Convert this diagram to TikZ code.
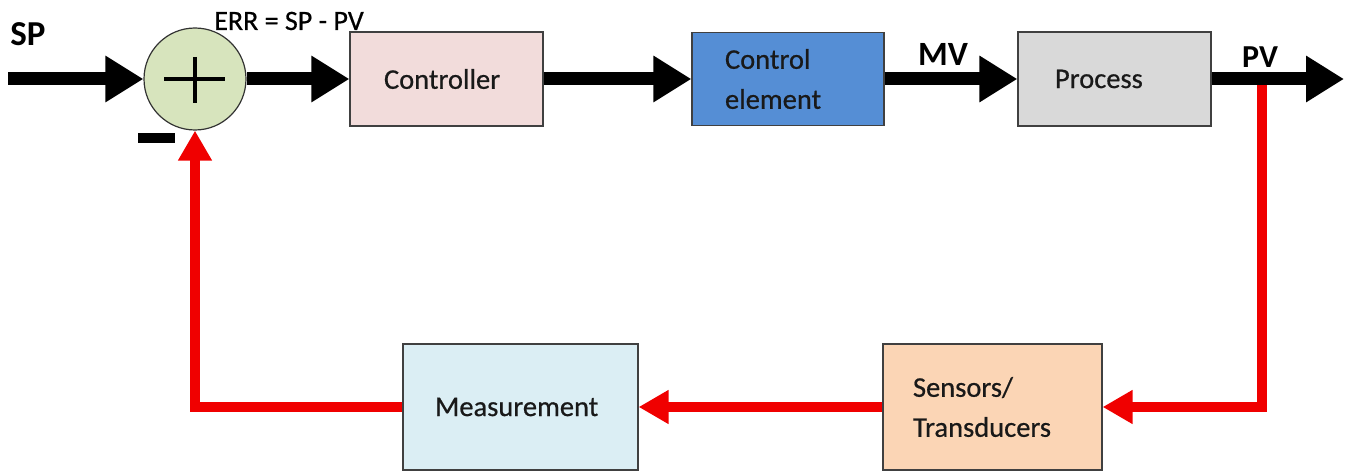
\documentclass[tikz,border=0pt]{standalone}
\usepackage{fontspec}
\setmainfont{Carlito}
\newfontfamily\boxfont{Carlito}[FakeBold=0.6]
\usetikzlibrary{arrows.meta}
\definecolor{sumgreen}{HTML}{D7E4BD}
\definecolor{ctrlpink}{HTML}{F2DCDB}
\definecolor{ceblue}{HTML}{558ED5}
\definecolor{procgray}{HTML}{D9D9D9}
\definecolor{senspeach}{HTML}{FBD5B5}
\definecolor{measblue}{HTML}{DBEEF4}
\definecolor{fbred}{HTML}{F00000}
\begin{document}
\begin{tikzpicture}[x=1pt,y=-1pt,
  blk/.style={draw=black!75, line width=1.2pt, rectangle, inner xsep=0pt, inner ysep=0pt,
    align=left, font=\boxfont\fontsize{28.5}{40}\selectfont, text=black!90},
  fwd/.style={draw=black, line width=13pt, -{Triangle[length=38pt,width=44pt]}},
  fb/.style={draw=fbred, line width=10pt},
  fbtip/.style={fb, -{Triangle[length=30pt,width=32pt]}},
  sig/.style={font=\bfseries\fontsize{34}{40}\selectfont, inner sep=0pt},
]
\useasboundingbox (0,0) rectangle (1345,476);

% summing junction
\node[circle, draw=black!80, line width=1.2pt, fill=sumgreen, minimum size=102pt, inner sep=0pt] (sum) at (195,79) {};
\draw[line width=4pt] ([xshift=-31pt]sum.center) -- ([xshift=30pt]sum.center);
\draw[line width=4pt] ([yshift=22pt]sum.center) -- ([yshift=-24pt]sum.center);
\fill (138,133) rectangle (175,143);

% blocks
\node[blk, fill=ctrlpink, minimum width=193pt, minimum height=94pt, text width=125pt] (ctrl) at (446.5,79) {Controller};
\node[blk, fill=ceblue, minimum width=192pt, minimum height=93pt, text width=126pt] (ce) at (788,79) {Control\\element};
\node[blk, fill=procgray, minimum width=193pt, minimum height=94pt, text width=119pt] (proc) at (1114.5,79) {Process};
\node[blk, fill=senspeach, minimum width=219pt, minimum height=126pt, text width=159pt] (sens) at (992.5,407) {Sensors/\\Transducers};
\node[blk, fill=measblue, minimum width=235pt, minimum height=126pt, text width=171pt] (meas) at (520.5,407) {Measurement};

% labels
\node[sig, font=\bfseries\fontsize{35}{40}\selectfont] (splbl) at (28,34) {SP};
\node[sig, font=\bfseries\fontsize{34}{40}\selectfont] (mvlbl) at (943,54) {MV};
\node[sig, font=\bfseries\fontsize{32}{40}\selectfont] (pvlbl) at (1260,57) {PV};
\node[inner sep=0pt, font=\boxfont\fontsize{28}{32}\selectfont] (errlbl) at (289,21) {ERR = SP - PV};

% feedback path (drawn first, under the forward path)
\coordinate (tap) at (1262,84);
\draw[fbtip] (tap) |- (sens.east);
\draw[fbtip] (sens.west) -- (meas.east);
\draw[fbtip] (meas.west) -| (sum.south);

% forward path
\coordinate (spin) at (8,79);
\coordinate (pvout) at (1344,79);
\draw[fwd] (spin) -- (sum.west);
\draw[fwd] (sum.east) -- (ctrl.west);
\draw[fwd] (ctrl.east) -- (ce.west);
\draw[fwd] (ce.east) -- (proc.west);
\draw[fwd] (proc.east) -- (pvout);
\end{tikzpicture}
\end{document}
